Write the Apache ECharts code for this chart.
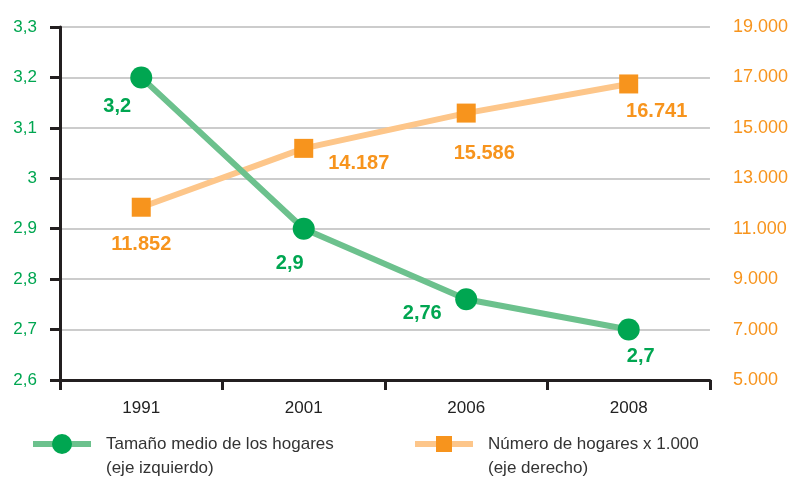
<!DOCTYPE html>
<html>
<head>
<meta charset="utf-8">
<script src="https://cdn.jsdelivr.net/npm/echarts@6/dist/echarts.min.js"></script>
<style>
  html, body { margin: 0; padding: 0; background: #fff; }
  #chart { width: 791px; height: 480px; }
</style>
</head>
<body>
<div id="chart"></div>
<script>
var years = ['1991', '2001', '2006', '2008'];
var tamanoMedio = [3.2, 2.9, 2.76, 2.7];
var numHogares = [11852, 14187, 15586, 16741];
var nameTamano = 'Tamaño medio de los hogares\n(eje izquierdo)';
var nameHogares = 'Número de hogares x 1.000\n(eje derecho)';

var GREEN = '#00a651';
var GREEN_LINE = '#6cc18d';
var ORANGE = '#f7941d';
var ORANGE_LINE = '#fdc68a';
var FONT = '"Liberation Sans", Arial, sans-serif';

// label offsets, relative to each marker
var greenOffsets = [[-24, 29], [-14, 35], [-44, 14], [12, 27]];
var orangeOffsets = [[0, 37], [55, 15], [18, 40], [28, 28]];

function miles(v) {
    return String(v).replace(/\B(?=(\d{3})+(?!\d))/g, '.');
}
function coma(v) {
    return String(parseFloat(v.toFixed(2))).replace('.', ',');
}

function legendFor(name, left, h) {
    return {
        data: [name],
        left: left,
        top: 408,
        padding: 0,
        itemWidth: 58,
        itemHeight: h,
        lineStyle: {width: 6},
        // blank first line so the icon sits on the first text line
        formatter: function (n) { return ' \n' + n; },
        textStyle: {
            fontFamily: FONT,
            fontSize: 17,
            color: '#333',
            lineHeight: 24,
            padding: [0, 0, 0, 10]
        }
    };
}

var chart = echarts.init(document.getElementById('chart'));

var option = {
    animation: false,
    grid: {
        left: 60,
        right: 81,
        top: 27,
        bottom: 100
    },
    legend: [
        legendFor(nameTamano, 30, 25),
        legendFor(nameHogares, 412, 20)
    ],
    xAxis: {
        type: 'category',
        data: years,
        boundaryGap: true,
        axisLine: {lineStyle: {color: '#231f20', width: 3}},
        axisTick: {show: true, length: 10, lineStyle: {color: '#231f20', width: 3}},
        axisLabel: {
            fontFamily: FONT,
            fontSize: 17,
            color: '#222',
            margin: 20
        }
    },
    yAxis: [
        {
            type: 'value',
            min: 2.6,
            max: 3.3,
            interval: 0.1,
            axisLine: {show: true, lineStyle: {color: '#231f20', width: 3}},
            axisTick: {show: true, length: 10, lineStyle: {color: '#231f20', width: 3}},
            splitLine: {lineStyle: {color: '#cccccc', width: 2}},
            axisLabel: {
                fontFamily: FONT,
                fontSize: 17,
                color: GREEN,
                margin: 23,
                formatter: function (v) { return coma(v); }
            }
        },
        {
            type: 'value',
            min: 5000,
            max: 19000,
            interval: 2000,
            position: 'right',
            axisLine: {show: false},
            axisTick: {show: false},
            splitLine: {show: false},
            axisLabel: {
                fontFamily: FONT,
                fontSize: 18,
                color: ORANGE,
                margin: 23,
                formatter: function (v) { return miles(v); }
            }
        }
    ],
    series: [
        {
            name: nameTamano,
            type: 'line',
            yAxisIndex: 0,
            symbol: 'circle',
            symbolSize: 22,
            z: 3,
            lineStyle: {color: GREEN_LINE, width: 6},
            itemStyle: {color: GREEN},
            data: tamanoMedio.map(function (v, i) {
                return {
                    value: v,
                    label: {
                        show: true,
                        position: 'inside',
                        offset: greenOffsets[i],
                        formatter: coma(v),
                        fontFamily: FONT,
                        fontWeight: 'bold',
                        fontSize: 20,
                        color: GREEN
                    }
                };
            })
        },
        {
            name: nameHogares,
            type: 'line',
            yAxisIndex: 1,
            symbol: 'rect',
            symbolSize: 19,
            z: 2,
            lineStyle: {color: ORANGE_LINE, width: 6},
            itemStyle: {color: ORANGE},
            data: numHogares.map(function (v, i) {
                return {
                    value: v,
                    label: {
                        show: true,
                        position: 'inside',
                        offset: orangeOffsets[i],
                        formatter: miles(v),
                        fontFamily: FONT,
                        fontWeight: 'bold',
                        fontSize: 20,
                        color: ORANGE
                    }
                };
            })
        }
    ]
};
chart.setOption(option);
</script>
</body>
</html>
